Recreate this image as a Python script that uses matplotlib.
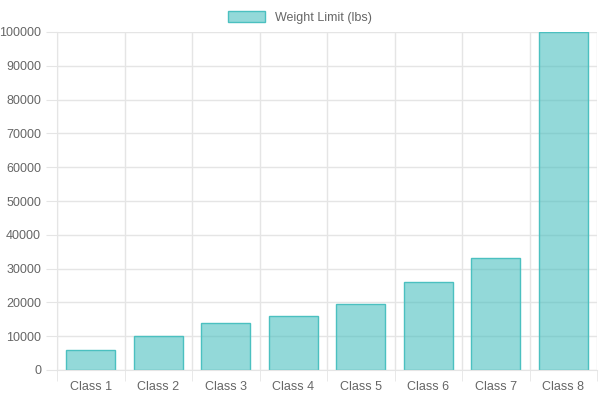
import matplotlib
matplotlib.use("Agg")
import matplotlib.pyplot as plt

categories = ["Class 1", "Class 2", "Class 3", "Class 4", "Class 5", "Class 6", "Class 7", "Class 8"]
weights = [6000, 10000, 14000, 16000, 19500, 26000, 33000, 100000]

plt.rcParams['font.family'] = ['Liberation Sans', 'DejaVu Sans']
fig = plt.figure(figsize=(6, 4), dpi=100)
ax = fig.add_axes([57/600, 30/400, 540/600, 338/400])

x = range(len(categories))
ax.bar(x, weights, width=0.72, color=(75/255, 192/255, 192/255, 0.6),
       edgecolor=(75/255, 192/255, 192/255, 1), linewidth=1, label="Weight Limit (lbs)", zorder=2)

ax.set_xlim(-0.5, len(categories) - 0.5)
ax.set_ylim(0, 100000)
ax.set_yticks(range(0, 100001, 10000))
ax.set_xticks(list(x))
ax.set_xticklabels(categories)
ax.set_xticks([i + 0.5 for i in range(-1, len(categories))], minor=True)
ax.grid(True, which='minor', axis='x', color='#e5e5e5', linewidth=1, zorder=0)
ax.grid(True, which='major', axis='y', color='#e5e5e5', linewidth=1, zorder=0)
ax.tick_params(axis='x', which='major', length=0, labelsize=9, colors='#666666', pad=8)
ax.tick_params(axis='x', which='minor', length=8, color='#e5e5e5')
ax.tick_params(axis='y', length=8, color='#e5e5e5', labelsize=9, colors='#666666')
for s in ax.spines.values():
    s.set_color('#e5e5e5')
ax.spines['top'].set_visible(False)
ax.spines['right'].set_visible(False)

leg = fig.legend(loc='upper center', bbox_to_anchor=(0.5, 1.0), frameon=False, fontsize=9,
                 handlelength=3, handleheight=0.9)
for t in leg.get_texts():
    t.set_color('#666666')

fig.savefig("out.png")
